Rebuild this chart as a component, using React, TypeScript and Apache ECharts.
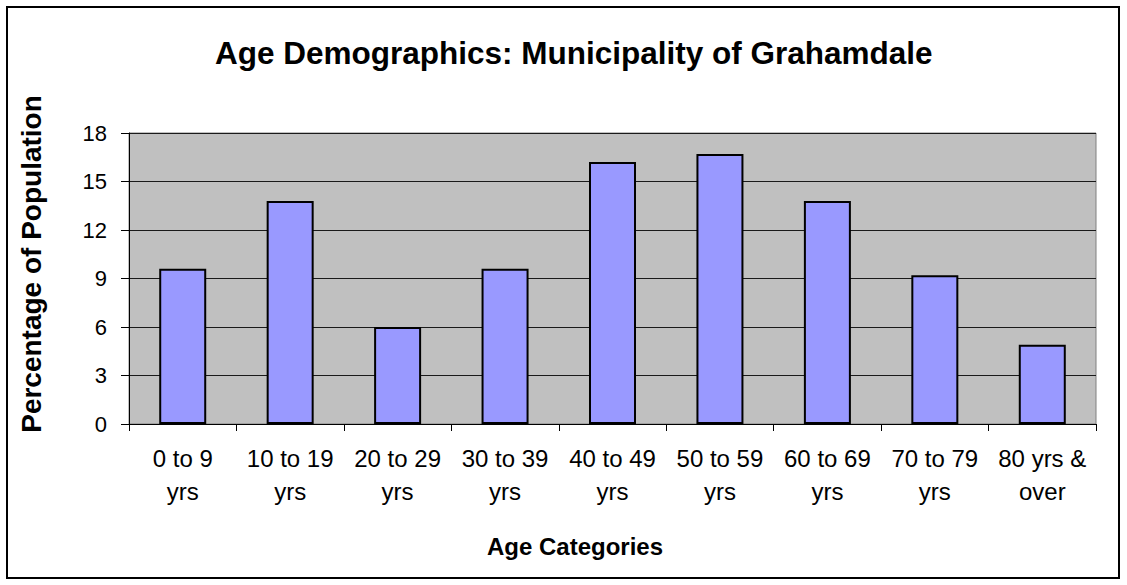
import React, { useEffect, useRef } from "react";
import * as echarts from "echarts";

const categories = [
  "0 to 9\nyrs",
  "10 to 19\nyrs",
  "20 to 29\nyrs",
  "30 to 39\nyrs",
  "40 to 49\nyrs",
  "50 to 59\nyrs",
  "60 to 69\nyrs",
  "70 to 79\nyrs",
  "80 yrs &\nover",
];
const percentages = [9.6, 13.8, 6.0, 9.6, 16.2, 16.7, 13.8, 9.2, 4.9];
const chartTitle = "Age Demographics: Municipality of Grahamdale";
const xTitle = "Age Categories";
const yTitle = "Percentage of Population";

const FONT = "'Liberation Sans', Arial, Helvetica, sans-serif";

export default function App() {
  const ref = useRef<HTMLDivElement>(null);
  useEffect(() => {
    document.body.style.margin = "0";
    if (!ref.current) return;
    const chart = echarts.init(ref.current, null, { renderer: "svg" });
    chart.setOption({
      animation: false,
      backgroundColor: "#ffffff",
      textStyle: { fontFamily: FONT },
      title: {
        text: chartTitle,
        left: 210,
        top: 32,
        textStyle: { fontFamily: FONT, fontSize: 31.5, fontWeight: "bold", color: "#000" },
      },
      grid: {
        left: 129,
        top: 133,
        right: 31,
        bottom: 161,
        show: true,
        backgroundColor: "#C0C0C0",
        borderColor: "#808080",
        borderWidth: 1,
      },
      xAxis: {
        type: "category",
        data: categories,
        axisLine: { show: true, lineStyle: { color: "#000", width: 1 } },
        axisTick: { show: true, length: 7, lineStyle: { color: "#000" } },
        axisLabel: {
          interval: 0,
          margin: 18,
          fontSize: 24,
          lineHeight: 33,
          color: "#000",
          fontFamily: FONT,
        },
        splitLine: { show: false },
      },
      yAxis: {
        type: "value",
        min: 0,
        max: 18,
        interval: 3,
        axisLine: { show: true, lineStyle: { color: "#000", width: 1 } },
        axisTick: { show: true, length: 8, lineStyle: { color: "#000" } },
        axisLabel: { margin: 22, fontSize: 22, color: "#000", fontFamily: FONT },
        splitLine: { show: true, lineStyle: { color: "#1a1a1a", width: 1 } },
      },
      series: [
        {
          type: "bar",
          data: percentages,
          barWidth: 47,
          itemStyle: { color: "#9999FF", borderColor: "#000", borderWidth: 2 },
        },
      ],
      graphic: [
        {
          type: "rect",
          shape: { x: 7, y: 7, width: 1112, height: 571 },
          style: { fill: "none", stroke: "#000", lineWidth: 2 },
          silent: true,
        },
        {
          type: "text",
          x: 31,
          y: 264,
          rotation: Math.PI / 2,
          style: {
            text: yTitle,
            fontFamily: FONT,
            fontSize: 28,
            fontWeight: "bold",
            fill: "#000",
            align: "center",
            verticalAlign: "middle",
          },
        },
        {
          type: "text",
          x: 575,
          y: 546,
          style: {
            text: xTitle,
            fontFamily: FONT,
            fontSize: 24,
            fontWeight: "bold",
            fill: "#000",
            align: "center",
            verticalAlign: "middle",
          },
        },
      ],
    });
    return () => chart.dispose();
  }, []);
  return <div ref={ref} style={{ width: 1127, height: 585 }} />;
}
